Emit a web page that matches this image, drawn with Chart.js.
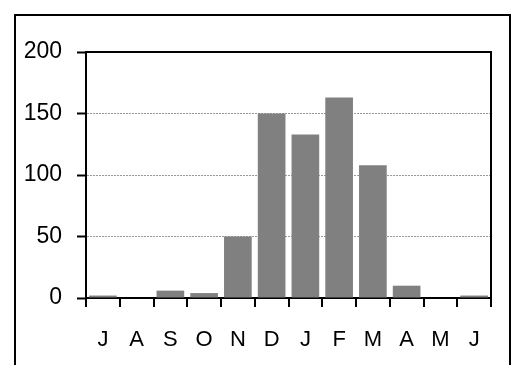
<!DOCTYPE html>
<html>
<head>
<meta charset="utf-8">
<script src="https://cdn.jsdelivr.net/npm/chart.js@4/dist/chart.umd.min.js"></script>
<style>
  html, body { margin: 0; padding: 0; background: #fff; }
  #grafico { display: block; }
</style>
</head>
<body>
<canvas id="grafico" width="513" height="365"></canvas>
<script>
// months, July to June
const meses = ['J', 'A', 'S', 'O', 'N', 'D', 'J', 'F', 'M', 'A', 'M', 'J'];
const lluvia = [2, 0, 6, 4, 50, 150, 133, 163, 108, 10, 0, 2];
const yTicks = [0, 50, 100, 150, 200];

const familia = "Arial, 'Liberation Sans', sans-serif";

// outer frame + top/right edge of the plot box
const marco = {
  id: 'marco',
  afterDraw(chart) {
    const ctx = chart.ctx;
    const a = chart.chartArea;
    ctx.save();
    ctx.strokeStyle = '#000';
    ctx.lineWidth = 2;
    ctx.strokeRect(15, 15, 495, 400);
    ctx.beginPath();
    ctx.moveTo(a.left, a.top);
    ctx.lineTo(a.right, a.top);
    ctx.lineTo(a.right, a.bottom);
    ctx.stroke();
    ctx.restore();
  }
};

new Chart(document.getElementById('grafico').getContext('2d'), {
  type: 'bar',
  data: {
    labels: meses,
    datasets: [{
      data: lluvia,
      backgroundColor: '#808080',
      borderWidth: 0,
      barPercentage: 0.82,
      categoryPercentage: 1
    }]
  },
  options: {
    responsive: false,
    animation: false,
    layout: { padding: { top: 52, right: 22, left: 0, bottom: 0 } },
    plugins: { legend: { display: false }, tooltip: { enabled: false } },
    scales: {
      x: {
        grid: { drawOnChartArea: false, color: '#000', tickLength: 9, lineWidth: 2 },
        border: { color: '#000', width: 2 },
        ticks: { color: '#000', font: { family: familia, size: 22 }, padding: 20, maxRotation: 0 },
        afterFit(scale) { scale.height = 67; }
      },
      y: {
        min: 0,
        max: 200,
        afterBuildTicks(scale) { scale.ticks = yTicks.map(v => ({ value: v })); },
        grid: {
          color: c => (c.tick && c.tick.value % 200 === 0) ? 'rgba(0,0,0,0)' : '#999',
          tickColor: '#000',
          tickWidth: 2,
          tickLength: 9,
          lineWidth: 1
        },
        border: { color: '#000', width: 2, dash: [2, 1] },
        ticks: { color: '#000', font: { family: familia, size: 23 }, padding: 15 },
        afterFit(scale) { scale.width = 86; }
      }
    }
  },
  plugins: [marco]
});
</script>
</body>
</html>
